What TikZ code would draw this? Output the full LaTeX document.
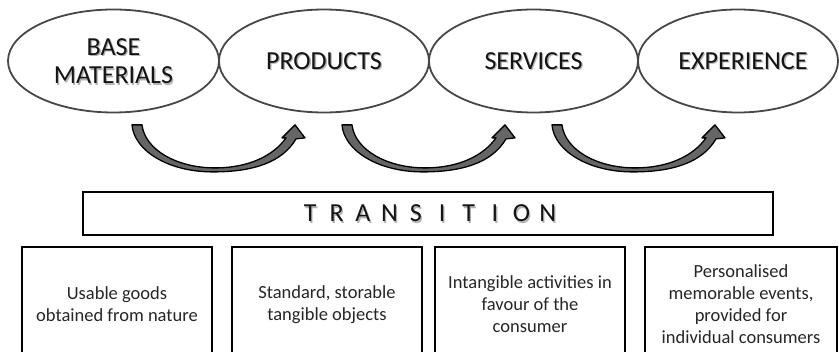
\documentclass[tikz,border=0pt]{standalone}
\usepackage{fontspec}
\setmainfont{Carlito}
\usetikzlibrary{shapes.geometric,calc}

\tikzset{
  stage/.style={ellipse, draw=black!72, line width=1.8pt, inner sep=0pt,
    minimum height=103pt},
  stagetext/.style={font=\fontsize{26}{28.5}\selectfont, align=center, text=black!92, inner sep=0pt},
  stageshadow/.style={stagetext, text=black!30},
  bandbox/.style={draw=black, line width=2.4pt, minimum width=690pt, minimum height=43pt, inner sep=0pt},
  descbox/.style={draw=black, line width=1.4pt, minimum width=190pt, minimum height=115pt,
    inner sep=0pt, font=\fontsize{18.5}{22}\selectfont, align=center, text=black!85},
  arrowfill/.style={fill=black!60, draw=black, line width=1.3pt, line join=round},
  bentarrow/.pic={
    \path[arrowfill]
      (0,0) -- (10,0)
      .. controls (13,25) and (45,43) .. (83,43)
      .. controls (118,43) and (142,30) .. (154,13)
      -- (150,13) -- (163,0) -- (173,13) -- (164,14)
      .. controls (150,38) and (120,47) .. (81,47)
      .. controls (35,47) and (2,25) .. (0,0) -- cycle;
  }
}
\newcommand{\spacedletter}[1]{\makebox[26.4pt]{#1}}

\begin{document}
\begin{tikzpicture}[x=1pt,y=-1pt]
  \useasboundingbox (0,0) rectangle (839,352);
  \clip (0,0) rectangle (839,352);

  % stages
  \node[stage, minimum width=211pt] (e1) at (113.5,61) {};
  \node[stage, minimum width=210pt] (e2) at (324,61) {};
  \node[stage, minimum width=209pt] (e3) at (533.5,61) {};
  \node[stage, minimum width=200pt] (e4) at (738,61) {};

  % stage labels with a soft drop shadow
  \node[stageshadow] (s1) at ($(e1)+(1.3,1.5)$) {BASE\\MATERIALS};
  \node[stageshadow] (s2) at ($(e2)+(1.3,1.5)$) {PRODUCTS};
  \node[stageshadow] (s3) at ($(e3)+(1.3,1.5)$) {SERVICES};
  \node[stageshadow] (s4) at ($(e4)+(6.3,1.5)$) {EXPERIENCE};
  \node[stagetext] (l1) at (e1) {BASE\\MATERIALS};
  \node[stagetext] (l2) at (e2) {PRODUCTS};
  \node[stagetext] (l3) at (e3) {SERVICES};
  \node[stagetext] (l4) at ($(e4)+(5,0)$) {EXPERIENCE};

  % curved transition arrows
  \pic at ($(e1.south)+(18.5,11.5)$) {bentarrow};
  \pic at ($(e2.south)+(18,11.5)$) {bentarrow};
  \pic at ($(e3.south)+(18.5,11.5)$) {bentarrow};

  % transition band
  \node[bandbox] (tr) at (428,213.5) {};
  \node[stageshadow] (trs) at ($(tr)+(2.3,1.5)$)
    {\spacedletter{T}\spacedletter{R}\spacedletter{A}\spacedletter{N}\spacedletter{S}\spacedletter{I}\spacedletter{T}\spacedletter{I}\spacedletter{O}\spacedletter{N}};
  \node[stagetext] (trl) at ($(tr)+(1,0)$)
    {\spacedletter{T}\spacedletter{R}\spacedletter{A}\spacedletter{N}\spacedletter{S}\spacedletter{I}\spacedletter{T}\spacedletter{I}\spacedletter{O}\spacedletter{N}};

  % descriptions
  \node[descbox] (b1) at (117,304.5) {Usable goods\\obtained from nature};
  \node[descbox] (b2) at (327,304.5) {Standard, storable\\tangible objects};
  \node[descbox] (b3) at (530,304.5) {Intangible activities in\\favour of the\\consumer};
  \node[descbox, minimum width=192pt] (b4) at (741,304.5) {Personalised\\memorable events,\\provided for\\individual consumers};
\end{tikzpicture}
\end{document}
